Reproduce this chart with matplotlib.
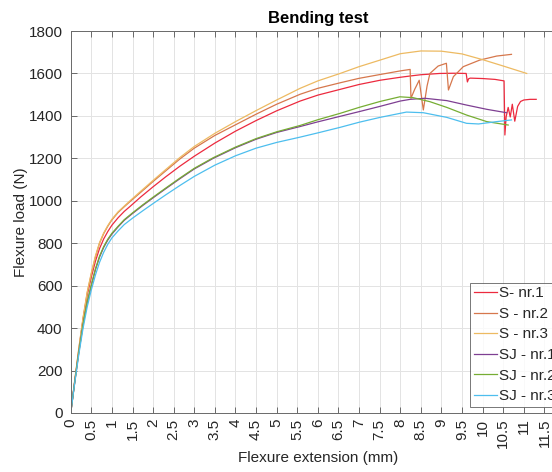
import matplotlib
matplotlib.use("Agg")
import matplotlib.pyplot as plt

plt.rcParams['font.family'] = ['Liberation Sans', 'DejaVu Sans']

# ---------------- data ----------------
labels = ['S- nr.1', 'S - nr.2', 'S - nr.3', 'SJ - nr.1', 'SJ - nr.2', 'SJ - nr.3']
colors = ['#EC2A3E', '#D6774C', '#EDBA62', '#7E3F92', '#76AD33', '#4DBEEE']

s1_x = [0, 0.1, 0.2, 0.3, 0.4, 0.5, 0.6, 0.7, 0.8, 0.9, 1.0, 1.15, 1.3, 1.45, 1.7, 2.0, 2.3, 2.65, 3.0,
        3.5, 4.0, 4.5, 5.0, 5.57, 6.0, 6.54, 7.0, 7.51, 8.0, 8.24, 8.5, 8.96, 9.3, 9.6, 9.63, 9.66, 9.7,
        10.0, 10.3, 10.52, 10.54, 10.57, 10.62, 10.67, 10.72, 10.78, 10.85, 10.92, 11.0, 11.15, 11.3]
s1_y = [0, 150, 300, 440, 555, 640, 715, 775, 820, 855, 885, 920, 950, 975, 1018, 1066, 1112, 1163, 1210,
        1272, 1328, 1378, 1424, 1470, 1498, 1525, 1548, 1568, 1582, 1588, 1594, 1600, 1601, 1600, 1560, 1575, 1578,
        1576, 1572, 1565, 1310, 1395, 1440, 1395, 1455, 1375, 1445, 1468, 1475, 1478, 1478]

s2_x = [0, 0.1, 0.2, 0.3, 0.4, 0.5, 0.6, 0.7, 0.8, 0.9, 1.0, 1.15, 1.3, 1.45, 1.7, 2.0, 2.3, 2.65, 3.0,
        3.5, 4.0, 4.5, 5.0, 5.57, 6.0, 6.54, 7.0, 7.51, 8.0, 8.24, 8.26, 8.35, 8.46, 8.56, 8.65, 8.72,
        8.92, 9.12, 9.17, 9.29, 9.53, 9.93, 10.34, 10.7]
s2_y = [0, 155, 305, 445, 565, 655, 735, 800, 845, 880, 910, 945, 972, 998, 1040, 1091, 1140, 1197, 1248,
        1308, 1358, 1408, 1455, 1502, 1530, 1556, 1577, 1595, 1612, 1619, 1483, 1525, 1568, 1428, 1540, 1600,
        1635, 1648, 1522, 1585, 1632, 1663, 1682, 1690]

s3_x = [0, 0.1, 0.2, 0.3, 0.4, 0.5, 0.6, 0.7, 0.8, 0.9, 1.0, 1.15, 1.3, 1.45, 1.7, 2.0, 2.3, 2.65, 3.0,
        3.5, 4.0, 4.5, 5.0, 5.57, 6.0, 6.54, 7.0, 7.51, 8.0, 8.5, 9.0, 9.5, 10.0, 10.5, 11.07]
s3_y = [0, 158, 310, 450, 570, 660, 740, 803, 848, 883, 913, 948, 975, 1002, 1045, 1096, 1146, 1204, 1256,
        1318, 1373, 1425, 1475, 1530, 1565, 1600, 1632, 1663, 1693, 1706, 1705, 1692, 1665, 1635, 1600]

sj1_x = [0, 0.1, 0.2, 0.3, 0.4, 0.5, 0.6, 0.7, 0.8, 0.9, 1.0, 1.15, 1.3, 1.5, 1.75, 2.0, 2.3, 2.65, 3.0,
         3.46, 4.0, 4.5, 5.0, 5.57, 6.0, 6.54, 7.0, 7.51, 8.0, 8.24, 8.6, 9.13, 9.61, 10.1, 10.58]
sj1_y = [0, 150, 290, 415, 520, 600, 675, 735, 780, 815, 843, 877, 908, 940, 978, 1014, 1056, 1104, 1150,
         1200, 1250, 1290, 1322, 1350, 1372, 1398, 1420, 1445, 1470, 1478, 1483, 1472, 1451, 1431, 1415]

sj2_x = [0, 0.1, 0.2, 0.3, 0.4, 0.5, 0.6, 0.7, 0.8, 0.9, 1.0, 1.15, 1.3, 1.5, 1.75, 2.0, 2.3, 2.65, 3.0,
         3.46, 4.0, 4.5, 5.0, 5.57, 6.0, 6.54, 7.0, 7.51, 7.99, 8.31, 8.72, 9.13, 9.61, 10.1, 10.62]
sj2_y = [0, 150, 292, 418, 523, 604, 679, 739, 784, 819, 847, 880, 911, 943, 981, 1017, 1059, 1107, 1153,
         1203, 1253, 1293, 1325, 1355, 1382, 1412, 1440, 1468, 1490, 1486, 1467, 1440, 1404, 1373, 1357]

sj3_x = [0, 0.1, 0.2, 0.3, 0.4, 0.5, 0.6, 0.7, 0.8, 0.9, 1.0, 1.15, 1.3, 1.5, 1.75, 2.0, 2.3, 2.65, 3.0,
         3.5, 4.0, 4.5, 5.0, 5.57, 6.0, 6.54, 7.0, 7.51, 8.15, 8.56, 9.13, 9.61, 9.9, 10.34, 10.7]
sj3_y = [0, 145, 280, 400, 500, 580, 650, 710, 757, 795, 825, 858, 888, 918, 953, 987, 1027, 1072, 1115,
         1168, 1212, 1248, 1275, 1300, 1320, 1346, 1370, 1393, 1418, 1415, 1393, 1365, 1362, 1373, 1381]

x_ticks = [i * 0.5 for i in range(25)]
x_tick_labels = ['0', '0.5', '1', '1.5', '2', '2.5', '3', '3.5', '4', '4.5', '5', '5.5', '6', '6.5',
                 '7', '7.5', '8', '8.5', '9', '9.5', '10', '10.5', '11', '11.5', '12']
y_ticks = [0, 200, 400, 600, 800, 1000, 1200, 1400, 1600, 1800]

series = [(s1_x, s1_y), (s2_x, s2_y), (s3_x, s3_y), (sj1_x, sj1_y), (sj2_x, sj2_y), (sj3_x, sj3_y)]

# ---------------- figure ----------------
fig = plt.figure(figsize=(5.52, 4.72), dpi=100)
ax = fig.add_axes([0.1281, 0.125, 0.8955, 0.8093])

for (xs, ys), c, lab in zip(series, colors, labels):
    ax.plot(xs, ys, color=c, lw=0.9, label=lab)

ax.set_xlim(0, 12)
ax.set_ylim(0, 1800)
ax.set_xticks(x_ticks)
ax.set_xticklabels(x_tick_labels, rotation=90)
ax.set_yticks(y_ticks)
ax.grid(True, color='#e3e3e3', lw=0.7)
ax.set_axisbelow(True)

for sp in ax.spines.values():
    sp.set_color('#6a6a6a')
    sp.set_linewidth(0.7)
ax.tick_params(direction='in', length=4, width=0.6, color='#555555', top=True, right=True,
               labelsize=11, labelcolor='#262626')
ax.tick_params(axis='x', pad=4)
ax.tick_params(axis='y', pad=6)

ax.set_title('Bending test', fontsize=12, fontweight='bold', pad=6)
ax.set_xlabel('Flexure extension (mm)', fontsize=11, color='#262626', labelpad=2)
ax.set_ylabel('Flexure load (N)', fontsize=11, color='#262626', labelpad=0)

leg = ax.legend(loc='lower left', bbox_to_anchor=(0.8078, 0.0157), borderaxespad=0,
                fontsize=11, frameon=True, fancybox=False, handlelength=1.5,
                handletextpad=0.15, labelspacing=0.43, borderpad=0.25)
leg.get_frame().set_edgecolor('#555555')
leg.get_frame().set_linewidth(0.7)
for t in leg.get_texts():
    t.set_color('#262626')

fig.savefig('out.png', dpi=100)
